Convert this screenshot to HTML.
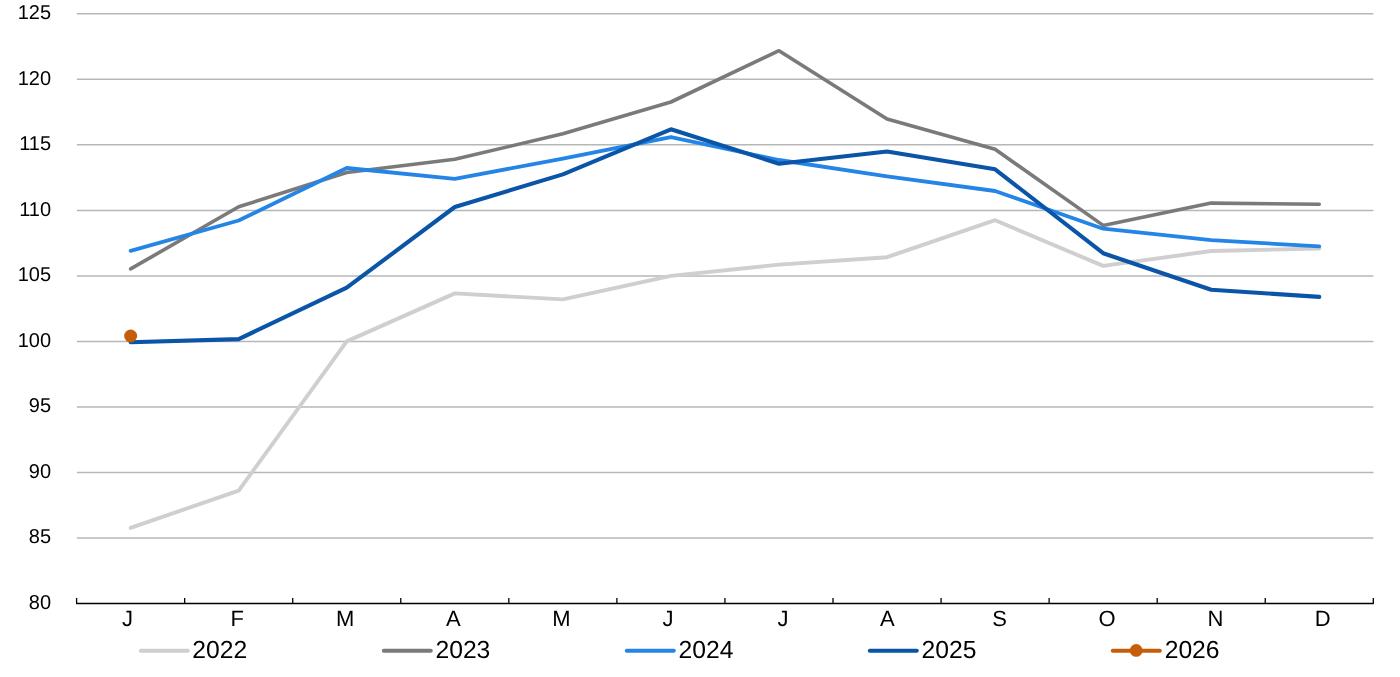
<!DOCTYPE html>
<html lang="en"><head><meta charset="utf-8"><title>Chart</title>
<style>
html,body{margin:0;padding:0;background:#fff;}
body{width:1400px;height:677px;overflow:hidden;}
svg{display:block;will-change:transform;}
text{font-family:"Liberation Sans",sans-serif;fill:#000;text-rendering:geometricPrecision;}
.yl{font-size:20px;text-anchor:end;}
.xl{font-size:22px;text-anchor:middle;}
.lg{font-size:24.7px;text-anchor:start;}
</style></head><body>
<svg width="1400" height="677" viewBox="0 0 1400 677">
<rect width="1400" height="677" fill="#fff"/>

<g stroke="#b7b7b7" stroke-width="1.5">
<line x1="76.9" y1="537.98" x2="1373.5" y2="537.98"/>
<line x1="76.9" y1="472.46" x2="1373.5" y2="472.46"/>
<line x1="76.9" y1="406.94" x2="1373.5" y2="406.94"/>
<line x1="76.9" y1="341.42" x2="1373.5" y2="341.42"/>
<line x1="76.9" y1="275.90" x2="1373.5" y2="275.90"/>
<line x1="76.9" y1="210.38" x2="1373.5" y2="210.38"/>
<line x1="76.9" y1="144.86" x2="1373.5" y2="144.86"/>
<line x1="76.9" y1="79.34" x2="1373.5" y2="79.34"/>
<line x1="76.9" y1="13.82" x2="1373.5" y2="13.82"/>
</g>
<g class="yl">
<text x="51.1" y="609.00">80</text>
<text x="51.1" y="543.00">85</text>
<text x="51.1" y="478.00">90</text>
<text x="51.1" y="412.00">95</text>
<text x="51.1" y="347.00">100</text>
<text x="51.1" y="281.00">105</text>
<text x="51.1" y="216.00">110</text>
<text x="51.1" y="150.00">115</text>
<text x="51.1" y="85.00">120</text>
<text x="51.1" y="19.00">125</text>
</g>
<polyline points="130.63,527.90 238.69,490.60 346.75,341.40 454.80,293.40 562.86,299.40 670.92,275.90 778.98,264.60 887.04,257.20 995.10,220.20 1103.15,265.90 1211.21,251.00 1319.27,248.50" fill="none" stroke="#d0cece" stroke-width="3.9" stroke-linecap="round" stroke-linejoin="round"/>
<polyline points="130.63,268.90 238.69,206.80 346.75,172.50 454.80,159.30 562.86,133.80 670.92,102.00 778.98,50.70 887.04,119.00 995.10,149.30 1103.15,225.40 1211.21,203.10 1319.27,204.30" fill="none" stroke="#7a7a7a" stroke-width="3.6" stroke-linecap="round" stroke-linejoin="round"/>
<polyline points="130.63,250.80 238.69,220.50 346.75,168.00 454.80,178.90 562.86,158.60 670.92,137.10 778.98,160.00 887.04,176.30 995.10,191.00 1103.15,228.70 1211.21,240.20 1319.27,246.40" fill="none" stroke="#2485e6" stroke-width="3.8" stroke-linecap="round" stroke-linejoin="round"/>
<polyline points="130.63,342.30 238.69,339.10 346.75,287.70 454.80,207.00 562.86,174.40 670.92,129.30 778.98,163.70 887.04,151.50 995.10,169.30 1103.15,253.20 1211.21,289.80 1319.27,296.90" fill="none" stroke="#0a55a8" stroke-width="4.1" stroke-linecap="round" stroke-linejoin="round"/>
<circle cx="130.63" cy="336.0" r="6.5" fill="#c65d0b"/>
<g stroke="#000" stroke-width="1.6"><line x1="76.1" y1="603.5" x2="1373.8" y2="603.5"/></g>
<g stroke="#000" stroke-width="1.3">
<line x1="76.60" y1="598.0" x2="76.60" y2="603.5"/>
<line x1="184.66" y1="598.0" x2="184.66" y2="603.5"/>
<line x1="292.72" y1="598.0" x2="292.72" y2="603.5"/>
<line x1="400.77" y1="598.0" x2="400.77" y2="603.5"/>
<line x1="508.83" y1="598.0" x2="508.83" y2="603.5"/>
<line x1="616.89" y1="598.0" x2="616.89" y2="603.5"/>
<line x1="724.95" y1="598.0" x2="724.95" y2="603.5"/>
<line x1="833.01" y1="598.0" x2="833.01" y2="603.5"/>
<line x1="941.07" y1="598.0" x2="941.07" y2="603.5"/>
<line x1="1049.12" y1="598.0" x2="1049.12" y2="603.5"/>
<line x1="1157.18" y1="598.0" x2="1157.18" y2="603.5"/>
<line x1="1265.24" y1="598.0" x2="1265.24" y2="603.5"/>
<line x1="1373.30" y1="598.0" x2="1373.30" y2="603.5"/>
</g>
<g class="xl">
<text x="127.60" y="626">J</text>
<text x="237.15" y="626">F</text>
<text x="345.10" y="626">M</text>
<text x="453.45" y="626">A</text>
<text x="561.50" y="626">M</text>
<text x="667.90" y="626">J</text>
<text x="782.90" y="626">J</text>
<text x="887.45" y="626">A</text>
<text x="999.70" y="626">S</text>
<text x="1107.10" y="626">O</text>
<text x="1215.40" y="626">N</text>
<text x="1322.65" y="626">D</text>
</g>
<g class="lg">
<line x1="140.78" y1="650.8" x2="187.83" y2="650.8" stroke="#d0cece" stroke-width="3.95" stroke-linecap="round"/>
<text x="192.35" y="658">2022</text>
<line x1="383.78" y1="650.8" x2="430.82" y2="650.8" stroke="#7a7a7a" stroke-width="3.95" stroke-linecap="round"/>
<text x="435.43" y="658">2023</text>
<line x1="626.77" y1="650.8" x2="673.82" y2="650.8" stroke="#2485e6" stroke-width="3.95" stroke-linecap="round"/>
<text x="678.51" y="658">2024</text>
<line x1="869.77" y1="650.8" x2="916.82" y2="650.8" stroke="#0a55a8" stroke-width="3.95" stroke-linecap="round"/>
<text x="921.59" y="658">2025</text>
<line x1="1112.77" y1="650.8" x2="1159.83" y2="650.8" stroke="#c65d0b" stroke-width="3.95" stroke-linecap="round"/>
<circle cx="1136.20" cy="650.45" r="6.4" fill="#c65d0b"/>
<text x="1164.67" y="658">2026</text>
</g>
</svg></body></html>
